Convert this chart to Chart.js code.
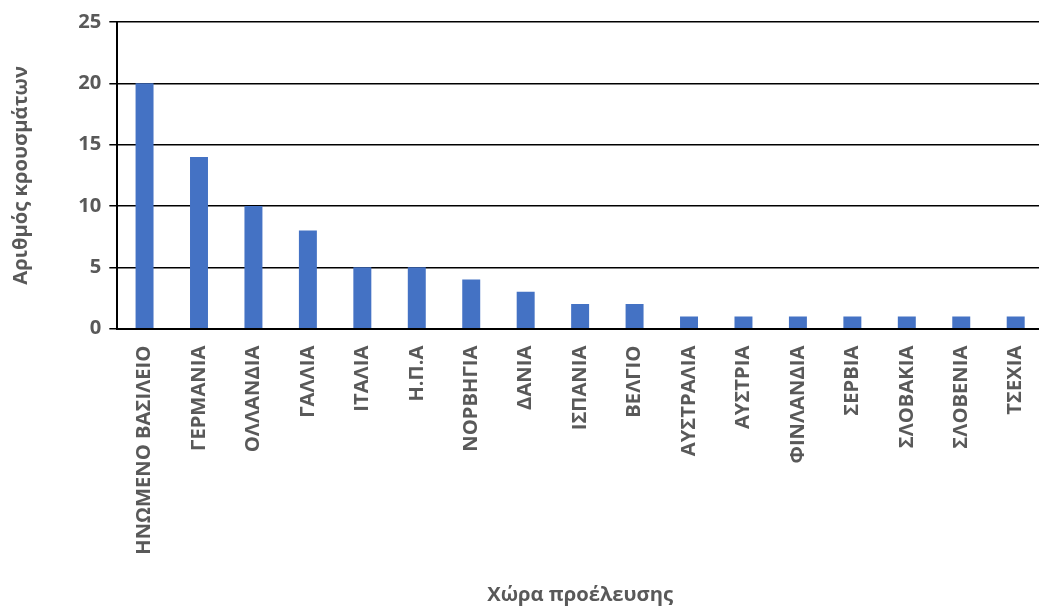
<!DOCTYPE html>
<html lang="el">
<head>
  <meta charset="UTF-8">
  <title>Κρούσματα ανά χώρα προέλευσης</title>
  <script src="https://cdn.jsdelivr.net/npm/chart.js@4.4.3/dist/chart.umd.min.js"></script>
  <style>
    html, body { margin: 0; padding: 0; background: #fff; overflow: hidden; }
    /* the plot runs a little past the right edge, as in the original */
    #wrap { width: 1050px; height: 607px; position: relative; }
  </style>
</head>
<body>
  <div id="wrap"><canvas id="chart"></canvas></div>
  <script>
    const countries = [
      "ΗΝΩΜΕΝΟ ΒΑΣΙΛΕΙΟ", "ΓΕΡΜΑΝΙΑ", "ΟΛΛΑΝΔΙΑ", "ΓΑΛΛΙΑ", "ΙΤΑΛΙΑ", "Η.Π.Α",
      "ΝΟΡΒΗΓΙΑ", "ΔΑΝΙΑ", "ΙΣΠΑΝΙΑ", "ΒΕΛΓΙΟ", "ΑΥΣΤΡΑΛΙΑ", "ΑΥΣΤΡΙΑ",
      "ΦΙΝΛΑΝΔΙΑ", "ΣΕΡΒΙΑ", "ΣΛΟΒΑΚΙΑ", "ΣΛΟΒΕΝΙΑ", "ΤΣΕΧΙΑ"
    ];
    const cases = [20, 14, 10, 8, 5, 5, 4, 3, 2, 2, 1, 1, 1, 1, 1, 1, 1];

    const textGray = "#595959";
    const font = { family: "'Open Sans', sans-serif", size: 20.2, weight: "bold" };

    new Chart(document.getElementById("chart"), {
      type: "bar",
      data: {
        labels: countries,
        datasets: [{
          label: "Αριθμός κρουσμάτων",
          data: cases,
          backgroundColor: "#4472C4",
          categoryPercentage: 1,
          barPercentage: 0.33
        }]
      },
      options: {
        responsive: true,
        maintainAspectRatio: false,
        animation: false,
        layout: { padding: { left: 5, right: 2, top: 22, bottom: 0 } },
        plugins: { legend: { display: false }, tooltip: { enabled: false } },
        scales: {
          x: {
            grid: { display: false, drawOnChartArea: false, drawTicks: true, tickLength: 7, color: "#000" },
            border: { display: true, color: "#000", width: 2 },
            ticks: { color: textGray, font: font, minRotation: 90, maxRotation: 90, autoSkip: false, padding: 10 },
            title: { display: true, text: "Χώρα προέλευσης", color: textGray, font: font, padding: { top: 18, bottom: 0 } }
          },
          y: {
            min: 0, max: 25,
            ticks: { stepSize: 5, color: textGray, font: font, padding: 8 },
            grid: { color: "#000", lineWidth: 1.5, tickLength: 8 },
            border: { display: true, color: "#000", width: 2 },
            title: { display: true, text: "Αριθμός κρουσμάτων", color: textGray, font: font, padding: { bottom: 37 } }
          }
        }
      }
    });
  </script>
</body>
</html>
